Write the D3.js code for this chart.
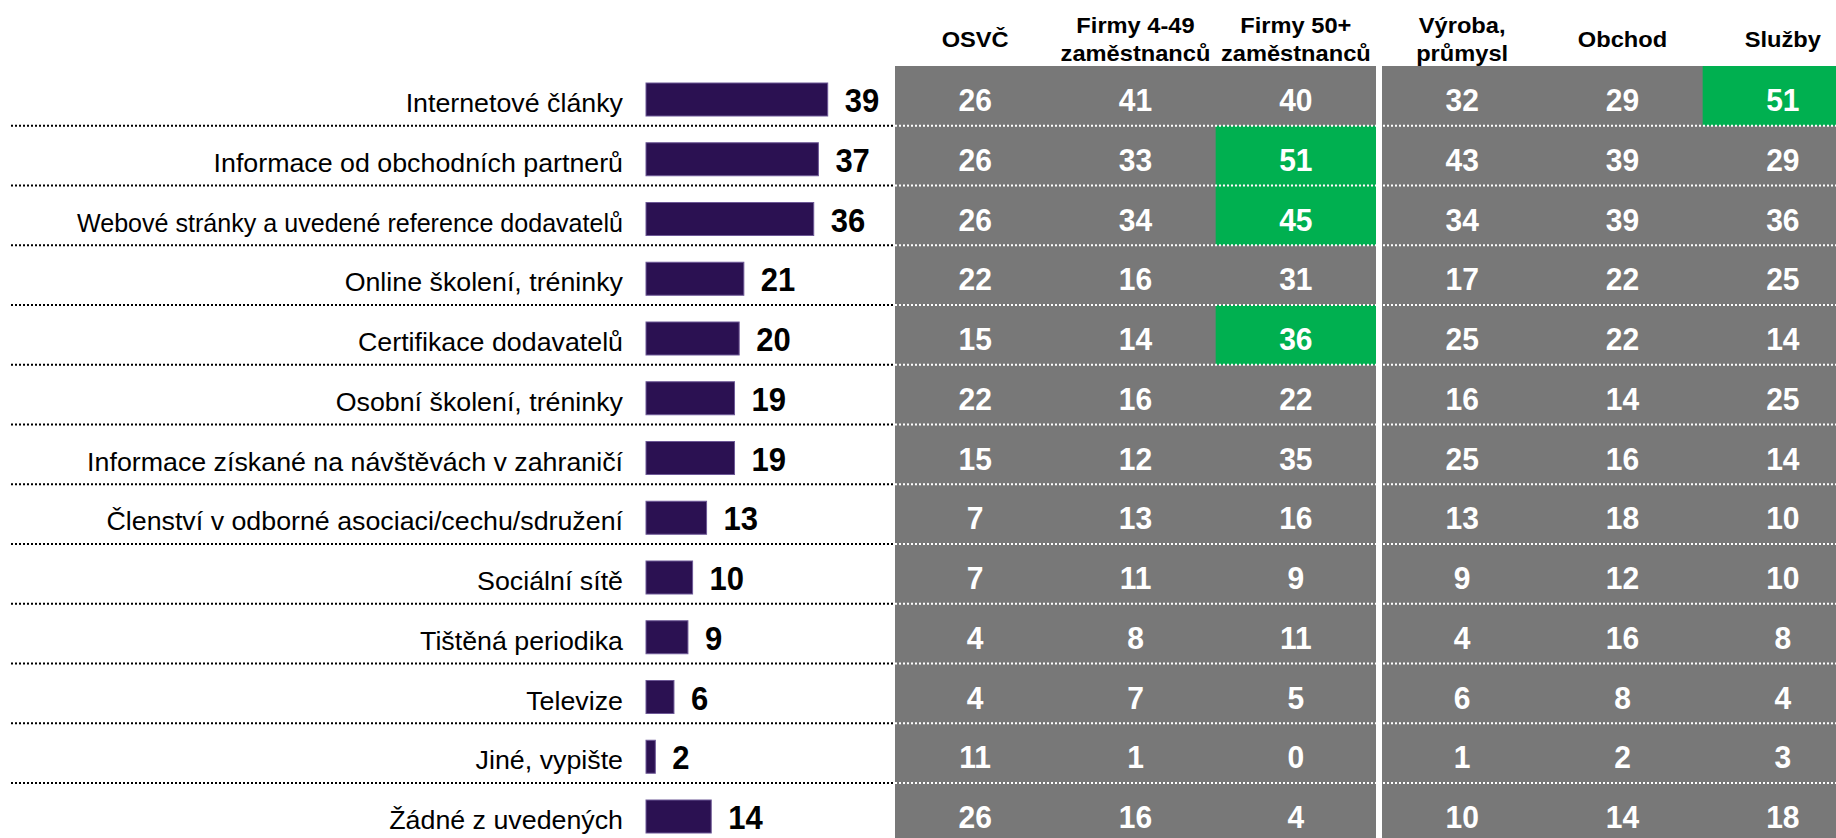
<!DOCTYPE html>
<html>
<head>
<meta charset="utf-8">
<script src="https://cdn.jsdelivr.net/npm/d3@7"></script>
<style>
  html, body { margin: 0; padding: 0; background: #fff; overflow: hidden; }
  svg { display: block; font-family: Arial, "Liberation Sans", sans-serif; }
</style>
</head>
<body>
<svg id="chart" width="1836" height="838"></svg>
<script>
// Information sources used by companies (% of respondents)
const categories = [
  "Internetové články",
  "Informace od obchodních partnerů",
  "Webové stránky a uvedené reference dodavatelů",
  "Online školení, tréninky",
  "Certifikace dodavatelů",
  "Osobní školení, tréninky",
  "Informace získané na návštěvách v zahraničí",
  "Členství v odborné asociaci/cechu/sdružení",
  "Sociální sítě",
  "Tištěná periodika",
  "Televize",
  "Jiné, vypište",
  "Žádné z uvedených"
];
const total      = [39, 37, 36, 21, 20, 19, 19, 13, 10, 9, 6, 2, 14];

const sizeColumns   = ["OSVČ", "Firmy 4-49 zaměstnanců", "Firmy 50+ zaměstnanců"];
const sectorColumns = ["Výroba, průmysl", "Obchod", "Služby"];

const osvc       = [26, 26, 26, 22, 15, 22, 15, 7, 7, 4, 4, 11, 26];
const firmy4_49  = [41, 33, 34, 16, 14, 16, 12, 13, 11, 8, 7, 1, 16];
const firmy50    = [40, 51, 45, 31, 36, 22, 35, 16, 9, 11, 5, 0, 4];
const vyroba     = [32, 43, 34, 17, 25, 16, 25, 13, 9, 4, 6, 1, 10];
const obchod     = [29, 39, 39, 22, 22, 14, 16, 18, 12, 16, 8, 2, 14];
const sluzby     = [51, 29, 36, 25, 14, 25, 14, 10, 10, 8, 4, 3, 18];

// Cells marked as significantly above the total: [category index, column name]
const highlighted = [
  [0, "Služby"],
  [1, "Firmy 50+ zaměstnanců"],
  [2, "Firmy 50+ zaměstnanců"],
  [4, "Firmy 50+ zaměstnanců"]
];

// Header lines for each column
const headerLines = {
  "OSVČ": ["OSVČ"],
  "Firmy 4-49 zaměstnanců": ["Firmy 4-49", "zaměstnanců"],
  "Firmy 50+ zaměstnanců": ["Firmy 50+", "zaměstnanců"],
  "Výroba, průmysl": ["Výroba,", "průmysl"],
  "Obchod": ["Obchod"],
  "Služby": ["Služby"]
};

const columnValues = {
  "OSVČ": osvc,
  "Firmy 4-49 zaměstnanců": firmy4_49,
  "Firmy 50+ zaměstnanců": firmy50,
  "Výroba, průmysl": vyroba,
  "Obchod": obchod,
  "Služby": sluzby
};

const W = 1836, H = 838;
const svg = d3.select("#chart");

const COLORS = {
  bar: "#2b1152",
  barEdge: "#6d5896",
  gray: "#787878",
  green: "#00b050",
  text: "#000000"
};

// Row layout
const rowTop = 66, rowStep = 59.75;
const y = d3.scaleBand()
  .domain(categories)
  .range([rowTop, rowTop + rowStep * categories.length])
  .padding(0);

// Bar scale
const x = d3.scaleLinear().domain([0, 39]).range([646, 827.7]);

// Label column: right-aligned at labelRight, never wider than labelRight - labelLeft
const labelLeft = 77, labelRight = 623;

// Table column scales (two groups separated by a white gap)
const xSize = d3.scaleBand().domain(sizeColumns).range([895, 1376]);
const xSector = d3.scaleBand().domain(sectorColumns).range([1382, 1382 + 481]);
const colX = c => sizeColumns.includes(c) ? xSize(c) : xSector(c);
const colW = xSize.bandwidth();

// ---- table background ----
const tableG = svg.append("g");
[xSize, xSector].forEach(sc => {
  tableG.append("rect")
    .attr("x", sc.range()[0])
    .attr("y", rowTop)
    .attr("width", sc.range()[1] - sc.range()[0])
    .attr("height", H - rowTop)
    .attr("fill", COLORS.gray);
});

// highlighted cells
tableG.selectAll("rect.hl")
  .data(highlighted)
  .join("rect")
  .attr("class", "hl")
  .attr("x", d => colX(d[1]))
  .attr("y", d => y(categories[d[0]]))
  .attr("width", colW)
  .attr("height", y.bandwidth())
  .attr("fill", COLORS.green);

// ---- dotted separators ----
const sepG = svg.append("g");
categories.slice(1).forEach(c => {
  const yy = y(c);
  sepG.append("line")
    .attr("x1", 11).attr("x2", 895)
    .attr("y1", yy).attr("y2", yy)
    .attr("stroke", "#000").attr("stroke-width", 2)
    .attr("stroke-dasharray", "2,2");
  sepG.append("line")
    .attr("x1", 895).attr("x2", W)
    .attr("y1", yy).attr("y2", yy)
    .attr("stroke", "#fff").attr("stroke-width", 2)
    .attr("stroke-dasharray", "2,2");
});
// white gap between column groups
svg.append("rect")
  .attr("x", 1376).attr("y", rowTop)
  .attr("width", 6).attr("height", H - rowTop)
  .attr("fill", "#fff");

// ---- category labels ----
const labels = svg.append("g").selectAll("text")
  .data(categories)
  .join("text")
  .attr("x", labelRight)
  .attr("y", d => y(d) + 46)
  .attr("text-anchor", "end")
  .attr("font-size", 26)
  .attr("fill", COLORS.text)
  .text(d => d);
labels.each(function () {
  const natural = this.getComputedTextLength();
  const fitted = Math.min(natural * 1.03, labelRight - labelLeft);
  d3.select(this)
    .attr("textLength", fitted)
    .attr("lengthAdjust", "spacingAndGlyphs");
});

// ---- bars ----
const rows = categories.map((c, i) => ({ cat: c, value: total[i] }));
svg.append("g").selectAll("rect")
  .data(rows)
  .join("rect")
  .attr("x", x(0))
  .attr("y", d => y(d.cat) + 17)
  .attr("width", d => x(d.value) - x(0))
  .attr("height", 33)
  .attr("fill", COLORS.bar)
  .attr("stroke", COLORS.barEdge)
  .attr("stroke-width", 1);

svg.append("g").selectAll("text")
  .data(rows)
  .join("text")
  .attr("transform", d => `translate(${x(d.value) + 17},${y(d.cat) + 46}) scale(1,1.05)`)
  .attr("font-size", 31)
  .attr("font-weight", "bold")
  .attr("fill", COLORS.text)
  .text(d => d.value);

// ---- table values ----
const allColumns = sizeColumns.concat(sectorColumns);
const cells = [];
allColumns.forEach(col => {
  columnValues[col].forEach((v, i) => cells.push({ col, cat: categories[i], v }));
});
svg.append("g").selectAll("text")
  .data(cells)
  .join("text")
  .attr("transform", d => `translate(${colX(d.col) + colW / 2},${y(d.cat) + 45}) scale(1,1.05)`)
  .attr("text-anchor", "middle")
  .attr("font-size", 30)
  .attr("font-weight", "bold")
  .attr("fill", "#fff")
  .text(d => d.v);

// ---- column headers ----
const headG = svg.append("g");
allColumns.forEach(col => {
  const lines = headerLines[col];
  const cx = colX(col) + colW / 2;
  const baselines = lines.length === 1 ? [47] : [33, 61];
  lines.forEach((t, k) => {
    headG.append("text")
      .attr("transform", `translate(${cx},${baselines[k]}) scale(1.1,1.05)`)
      .attr("text-anchor", "middle")
      .attr("font-size", 21.5)
      .attr("font-weight", "bold")
      .attr("fill", COLORS.text)
      .text(t);
  });
});
</script>
</body>
</html>
